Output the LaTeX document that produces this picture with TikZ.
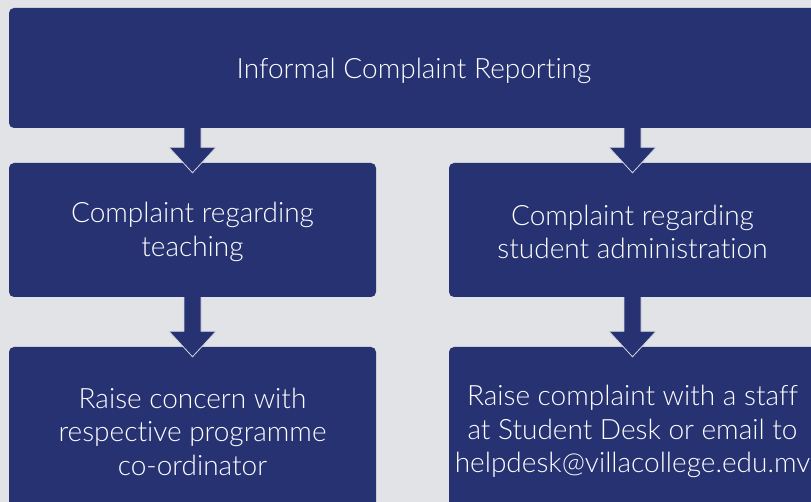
\documentclass[tikz,border=0pt]{standalone}
\usepackage{fontspec}
\setmainfont{Lato Light}[Ligatures=NoCommon]
\usetikzlibrary{calc}
\definecolor{navy}{HTML}{273272}
\definecolor{bg}{HTML}{E2E3E7}
\definecolor{edgecol}{HTML}{D3D6E2}
\newcommand\blockarrow[2]{%
  \fill[navy] let \p1=(#2.north), \p2=(#1.south) in
    ({\x1-8.5pt},{\y2}) -- ({\x1-8.5pt},{\y1+15.5pt}) -- ({\x1-23.5pt},{\y1+15.5pt}) --
    ({\x1},{\y1-10pt}) -- ({\x1+23.5pt},{\y1+15.5pt}) -- ({\x1+8.5pt},{\y1+15.5pt}) --
    ({\x1+8.5pt},{\y2}) -- cycle;
  \draw[edgecol, line width=0.8pt, line join=miter] let \p1=(#2.north), \p2=(#1.south) in
    ({\x1-8.5pt},{\y2}) -- ({\x1-8.5pt},{\y1+15.5pt}) -- ({\x1-23.5pt},{\y1+15.5pt}) --
    ({\x1},{\y1-10pt}) -- ({\x1+23.5pt},{\y1+15.5pt}) -- ({\x1+8.5pt},{\y1+15.5pt}) --
    ({\x1+8.5pt},{\y2});
}
\begin{document}
\begin{tikzpicture}[x=1pt,y=-1pt,
  box/.style={fill=navy, rounded corners=5pt, inner sep=0pt},
  lbl/.style={inner sep=0pt, text=white, align=center,
    font=\fontsize{28}{33.5}\selectfont}]
\useasboundingbox (0,0) rectangle (811,502);
\clip (0,0) rectangle (811,502);
\fill[bg] (0,0) rectangle (811,502);
\node[box, minimum width=810pt, minimum height=120pt] (top) at (414,68) {};
\node[box, minimum width=367pt, minimum height=134pt] (tl) at (192.5,230) {};
\node[box, minimum width=367pt, minimum height=134pt] (tr) at (632.5,230) {};
\node[box, minimum width=367pt, minimum height=169pt] (bl) at (192.5,431.5) {};
\node[box, minimum width=367pt, minimum height=169pt] (br) at (632.5,431.5) {};
\node[lbl] (toptext) at ([yshift=-3pt]top.center) {Informal Complaint Reporting};
\node[lbl] (tltext) at ([yshift=-2pt]tl.center) {Complaint regarding\\teaching};
\node[lbl] (trtext) at ([yshift=-2pt]tr.center) {Complaint regarding\\student administration};
\node[lbl] (bltext) at (bl.center) {Raise concern with\\respective programme\\co-ordinator};
\node[lbl] (brtext) at (br.center) {Raise complaint with a staff\\at Student Desk or email to\\helpdesk@villacollege.edu.mv};
\blockarrow{top}{tl}
\blockarrow{top}{tr}
\blockarrow{tl}{bl}
\blockarrow{tr}{br}
\end{tikzpicture}
\end{document}
